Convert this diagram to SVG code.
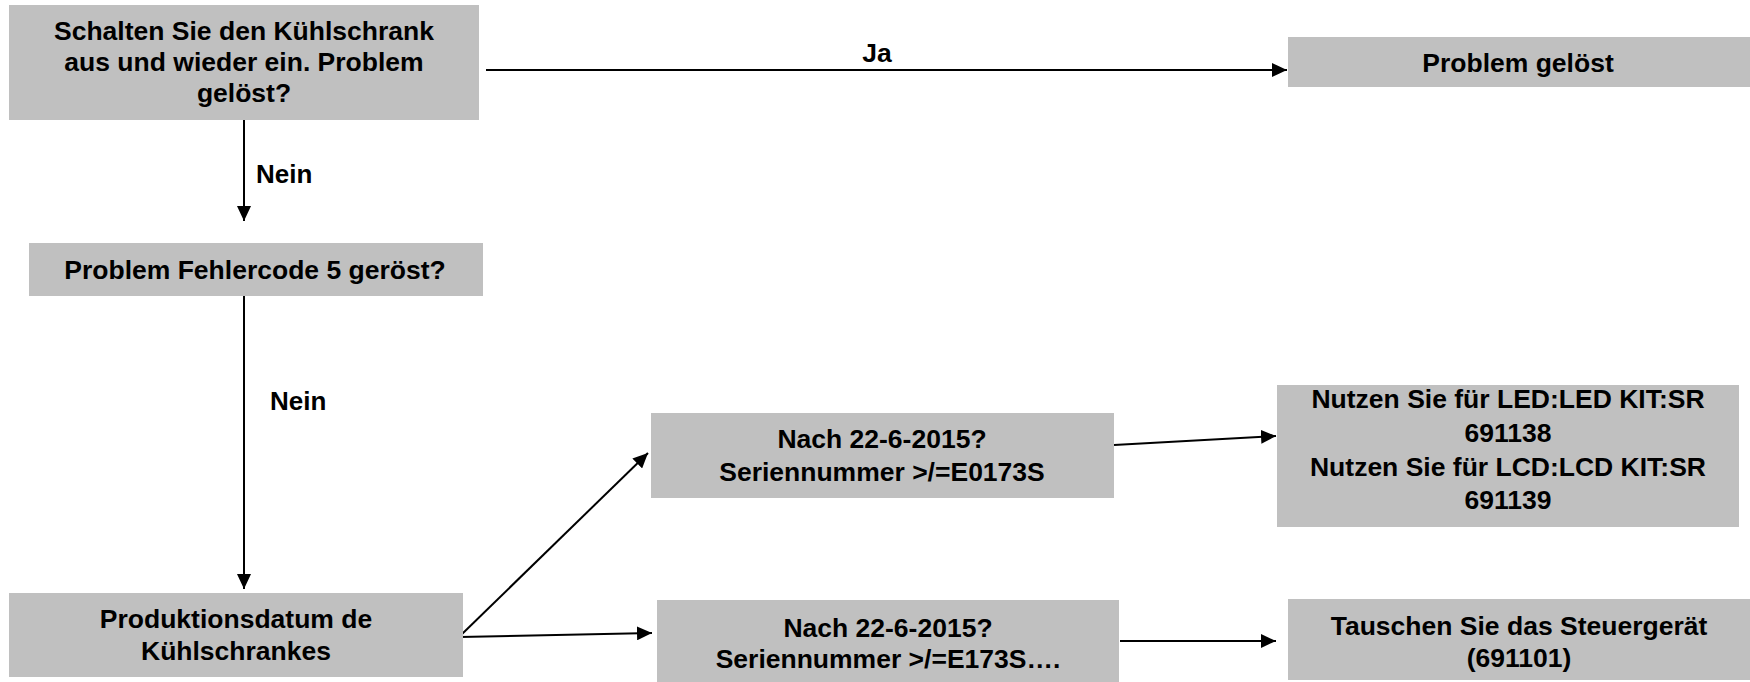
<svg xmlns="http://www.w3.org/2000/svg" width="1750" height="682" viewBox="0 0 1750 682">
<defs>
<style>
.box{fill:#c0c0c0;}
.t{font-family:"Liberation Sans",Arial,sans-serif;font-weight:bold;font-size:26.5px;fill:#000;text-anchor:middle;}
.l{font-family:"Liberation Sans",Arial,sans-serif;font-weight:bold;font-size:26px;fill:#000;}
.c{stroke:#000;stroke-width:2;fill:none;marker-end:url(#ah);}
</style>
<marker id="ah" markerUnits="userSpaceOnUse" markerWidth="15" markerHeight="14" refX="15" refY="7" orient="auto">
<path d="M0,0 L15,7 L0,14 z" fill="#000"/>
</marker>
</defs>
<rect width="1750" height="682" fill="#fff"/>
<g id="connectors">
<line class="c" x1="486" y1="70" x2="1287" y2="70"/>
<line class="c" x1="244" y1="120" x2="244" y2="221"/>
<line class="c" x1="244" y1="296" x2="244" y2="589"/>
<line class="c" x1="461" y1="635" x2="648" y2="453"/>
<line class="c" x1="460" y1="637" x2="652" y2="633"/>
<line class="c" x1="1114" y1="445" x2="1276" y2="436"/>
<line class="c" x1="1120" y1="641" x2="1276" y2="641"/>
<text class="t" x="877" y="62">Ja</text>
<text class="l" x="256" y="183">Nein</text>
<text class="l" x="270" y="410">Nein</text>
</g>
<g id="n1">
<rect class="box" x="9" y="5" width="470" height="115"/>
<text class="t" x="244" y="40">Schalten Sie den Kühlschrank</text>
<text class="t" x="244" y="71">aus und wieder ein. Problem</text>
<text class="t" x="244" y="102">gelöst?</text>
</g>
<g id="n2">
<rect class="box" x="1288" y="37" width="462" height="50"/>
<text class="t" x="1518" y="72">Problem gelöst</text>
</g>
<g id="n3">
<rect class="box" x="29" y="243" width="454" height="53"/>
<text class="t" x="255" y="279">Problem Fehlercode 5 geröst?</text>
</g>
<g id="n4">
<rect class="box" x="9" y="593" width="454" height="84"/>
<text class="t" x="236" y="628">Produktionsdatum de</text>
<text class="t" x="236" y="660">Kühlschrankes</text>
</g>
<g id="n5">
<rect class="box" x="651" y="413" width="463" height="85"/>
<text class="t" x="882" y="448">Nach 22-6-2015?</text>
<text class="t" x="882" y="481">Seriennummer &gt;/=E0173S</text>
</g>
<g id="n6">
<rect class="box" x="657" y="600" width="462" height="82"/>
<text class="t" x="888" y="637">Nach 22-6-2015?</text>
<text class="t" x="888" y="668">Seriennummer &gt;/=E173S….</text>
</g>
<g id="n7">
<rect class="box" x="1277" y="385" width="462" height="142"/>
<text class="t" x="1508" y="408">Nutzen Sie für LED:LED KIT:SR</text>
<text class="t" x="1508" y="442">691138</text>
<text class="t" x="1508" y="476">Nutzen Sie für LCD:LCD KIT:SR</text>
<text class="t" x="1508" y="509">691139</text>
</g>
<g id="n8">
<rect class="box" x="1288" y="599" width="462" height="81"/>
<text class="t" x="1519" y="635">Tauschen Sie das Steuergerät</text>
<text class="t" x="1519" y="667">(691101)</text>
</g>
</svg>
